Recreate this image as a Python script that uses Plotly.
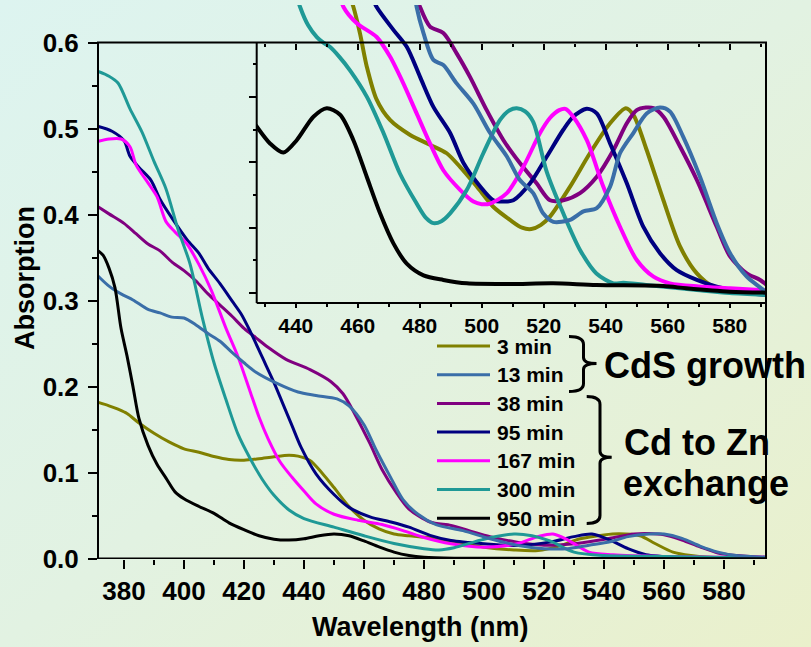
import base64
import plotly.graph_objects as go

# ---------------- data ----------------
labels = ["3 min", "13 min", "38 min", "95 min", "167 min", "300 min", "950 min"]
colors = ["#808000", "#3a6ea8", "#800080", "#000080", "#ff00ff", "#1f9996", "#000000"]

# main panel: absorption spectra (wavelength in nm, absorbance)
wl_3 = [371, 375, 378, 381, 385, 390, 395, 400, 405, 410, 415, 420, 425, 430, 435, 438, 442, 446, 450, 455,
        460, 465, 470, 475, 482, 490, 500, 510, 518, 525, 532, 540, 545, 552, 557, 563, 569, 575, 585, 594]
ab_3 = [0.1825, 0.178, 0.174, 0.169, 0.158, 0.146, 0.136, 0.128, 0.124, 0.119, 0.1155, 0.1148, 0.1165, 0.1188,
        0.1205, 0.1195, 0.1145, 0.100, 0.083, 0.061, 0.045, 0.035, 0.029, 0.027, 0.0247, 0.020, 0.0137, 0.0105,
        0.0099, 0.015, 0.0235, 0.028, 0.0293, 0.027, 0.018, 0.008, 0.004, 0.002, 0.001, 0.001]

wl_13 = [371, 375, 379, 383, 388, 392, 396, 400, 404, 408, 412, 416, 420, 424, 431, 438, 444, 451, 455, 460,
         464, 469, 473, 478, 484, 493, 502, 511, 520, 528, 535, 542, 548, 555, 560, 566, 572, 578, 584, 594]
ab_13 = [0.33, 0.317, 0.308, 0.301, 0.29, 0.286, 0.281, 0.28, 0.272, 0.262, 0.253, 0.24, 0.228, 0.217, 0.204,
         0.194, 0.19, 0.186, 0.178, 0.156, 0.127, 0.094, 0.069, 0.052, 0.04, 0.033, 0.0235, 0.016, 0.012, 0.012,
         0.016, 0.02, 0.026, 0.029, 0.029, 0.024, 0.015, 0.008, 0.004, 0.002]

wl_38 = [371, 375, 380, 384, 388, 392, 396, 400, 404, 408, 412, 416, 420, 424, 428, 434, 442, 449, 453, 457,
         462, 466, 471, 475, 482, 489, 495, 502, 511, 520, 528, 535, 542, 550, 555, 560, 566, 572, 578, 584, 594]
ab_38 = [0.41, 0.401, 0.39, 0.378, 0.366, 0.358, 0.345, 0.335, 0.323, 0.308, 0.295, 0.282, 0.268, 0.257, 0.246,
         0.232, 0.22, 0.206, 0.192, 0.168, 0.134, 0.104, 0.076, 0.058, 0.043, 0.039, 0.033, 0.026, 0.0196, 0.016,
         0.017, 0.02, 0.024, 0.029, 0.0295, 0.028, 0.022, 0.014, 0.007, 0.004, 0.002]

wl_95 = [371, 376, 380, 382, 385, 389, 392, 396, 401, 405, 408, 412, 416, 419, 422, 426, 430, 433, 436, 439,
         444, 450, 455, 462, 469, 475, 482, 489, 500, 511, 522, 530, 536, 542, 548, 554, 565, 594]
ab_95 = [0.503, 0.497, 0.486, 0.468, 0.455, 0.44, 0.418, 0.396, 0.371, 0.355, 0.338, 0.32, 0.30, 0.285, 0.265,
         0.235, 0.205, 0.18, 0.155, 0.13, 0.099, 0.075, 0.06, 0.049, 0.043, 0.037, 0.0275, 0.0215, 0.0177, 0.0157,
         0.0196, 0.026, 0.029, 0.022, 0.012, 0.005, 0.002, 0.001]

wl_167 = [371, 375, 379, 382, 384, 388, 391, 394, 397, 401, 405, 409, 414, 418, 422, 425, 428, 432, 436, 440,
          444, 450, 458, 466, 473, 480, 489, 500, 511, 518, 523, 528, 535, 543, 560, 594]
ab_167 = [0.485, 0.488, 0.488, 0.479, 0.458, 0.437, 0.421, 0.392, 0.38, 0.366, 0.342, 0.313, 0.268, 0.235, 0.195,
          0.165, 0.14, 0.113, 0.095, 0.079, 0.064, 0.052, 0.045, 0.04, 0.033, 0.025, 0.0177, 0.0137, 0.0177, 0.026,
          0.029, 0.022, 0.008, 0.005, 0.003, 0.002]

wl_300 = [371, 375, 378, 382, 386, 390, 394, 398, 402, 406, 410, 414, 418, 422, 426, 430, 435, 440, 450, 460,
          470, 480, 485, 490, 500, 510, 516, 522, 530, 540, 560, 594]
ab_300 = [0.567, 0.561, 0.553, 0.523, 0.496, 0.462, 0.43, 0.383, 0.343, 0.282, 0.228, 0.185, 0.145, 0.117, 0.093,
          0.074, 0.057, 0.047, 0.037, 0.027, 0.018, 0.012, 0.0105, 0.013, 0.023, 0.029, 0.027, 0.021, 0.008, 0.004,
          0.003, 0.001]

wl_950 = [371, 373, 375, 377, 379, 381, 383, 385, 388, 391, 394, 397, 400, 405, 410, 415, 420, 425, 430, 435,
          440, 445, 450, 455, 460, 465, 470, 475, 480, 490, 594]
ab_950 = [0.359, 0.353, 0.338, 0.315, 0.268, 0.236, 0.2, 0.163, 0.132, 0.11, 0.094, 0.078, 0.07, 0.061, 0.053, 0.042,
          0.034, 0.027, 0.023, 0.022, 0.0235, 0.027, 0.029, 0.027, 0.021, 0.014, 0.008, 0.004, 0.002, 0.001, 0.0]

# inset: normalised spectra around the first excitonic peak (arbitrary units)
iwl_3 = [457, 458.6, 460.7, 462.9, 466.1, 470.4, 476.9, 483.3, 488.7, 493, 498.4, 503.7, 509.1, 513, 516, 519,
         522, 528.5, 534.9, 541.4, 546.5, 549, 553.2, 558.6, 564, 569.4, 574.7, 582.3, 592]
ia_3 = [0.46, 0.438, 0.398, 0.347, 0.296, 0.265, 0.242, 0.227, 0.214, 0.193, 0.163, 0.132, 0.112, 0.1, 0.098,
        0.104, 0.117, 0.163, 0.214, 0.26, 0.283, 0.272, 0.219, 0.142, 0.071, 0.030, 0.0097, 0.002, -0.0005]

iwl_13 = [478, 479, 481.2, 484.4, 487.6, 491.9, 497.3, 502.7, 508.1, 512.3, 516.6, 519.8, 523.1, 528.5, 532.8,
          537.1, 541.4, 544.6, 548.9, 553.2, 557.5, 560.7, 565, 570.4, 575.8, 580.1, 585.5, 590.8, 592]
ia_13 = [0.47, 0.438, 0.398, 0.357, 0.349, 0.321, 0.29, 0.245, 0.209, 0.173, 0.153, 0.122, 0.109, 0.112, 0.125,
         0.13, 0.163, 0.214, 0.245, 0.275, 0.284, 0.278, 0.239, 0.178, 0.107, 0.061, 0.025, 0.0046, -0.003]

iwl_38 = [478, 480.1, 483.3, 487.6, 491.9, 496.2, 501.6, 507, 512.3, 517.7, 522, 526.3, 531.7, 537.1, 542.5,
          546.8, 550, 553, 555.4, 558.6, 564, 569.4, 575.8, 580.1, 585.5, 589.8, 592]
ia_38 = [0.47, 0.438, 0.408, 0.398, 0.367, 0.331, 0.28, 0.234, 0.199, 0.168, 0.142, 0.142, 0.153, 0.178, 0.219,
         0.26, 0.28, 0.284, 0.283, 0.27, 0.224, 0.173, 0.1015, 0.056, 0.030, 0.020, 0.012]

iwl_95 = [464, 466.1, 471.5, 475.8, 480.1, 484.4, 489.8, 494.1, 499.5, 503.7, 507, 510.2, 515.6, 521, 526.3,
          529.5, 533.9, 537.1, 541.4, 546.8, 552.1, 557.5, 562.9, 569.4, 575.8, 585.5, 592]
ia_95 = [0.46, 0.438, 0.403, 0.377, 0.331, 0.285, 0.245, 0.199, 0.163, 0.142, 0.14, 0.142, 0.168, 0.209, 0.25,
         0.27, 0.282, 0.275, 0.229, 0.168, 0.1015, 0.061, 0.035, 0.02, 0.0097, 0.0, -0.003]

iwl_167 = [454, 455.4, 459.7, 466.1, 470.4, 474.7, 479, 483.3, 487.6, 493, 497.3, 500, 502.7, 508.1, 513.4, 518.8,
           522, 525, 527, 529.5, 533.9, 539.2, 544.6, 550, 555.4, 560.7, 570, 580.1, 592]
ia_167 = [0.46, 0.438, 0.413, 0.392, 0.362, 0.321, 0.275, 0.229, 0.188, 0.158, 0.14, 0.136, 0.137, 0.153, 0.193,
          0.245, 0.268, 0.28, 0.282, 0.27, 0.234, 0.163, 0.1015, 0.0505, 0.025, 0.0148, 0.01, 0.0072, 0.004]

iwl_300 = [440, 441.4, 444, 446.8, 449, 451, 454, 457.5, 463, 468.3, 473.6, 479, 482, 484.4, 487, 489.8, 495.2,
           500.5, 505.9, 509, 511.3, 514, 516.6, 521, 526.3, 531.7, 537, 542.5, 545.7, 553, 569.4, 580, 592]
ia_300 = [0.46, 0.438, 0.41, 0.392, 0.383, 0.377, 0.362, 0.341, 0.30, 0.245, 0.183, 0.137, 0.115, 0.107, 0.11,
          0.122, 0.158, 0.214, 0.265, 0.28, 0.283, 0.278, 0.262, 0.185, 0.122, 0.066, 0.030, 0.0148, 0.0158,
          0.0122, 0.0046, 0.0, -0.003]

iwl_950 = [426, 427.4, 431.7, 436, 440.3, 445.7, 450, 454.3, 458.6, 462.9, 467.2, 471.5, 475.8, 481.2, 487.6,
           495.2, 509.1, 523, 537, 558.6, 566, 580, 592]
ia_950 = [0.265, 0.255, 0.229, 0.215, 0.234, 0.27, 0.283, 0.273, 0.234, 0.178, 0.122, 0.076, 0.045, 0.027, 0.020,
          0.0148, 0.0138, 0.0148, 0.0122, 0.0107, 0.0072, 0.002, 0.0005]

main_x = [wl_3, wl_13, wl_38, wl_95, wl_167, wl_300, wl_950]
main_y = [ab_3, ab_13, ab_38, ab_95, ab_167, ab_300, ab_950]
inset_x = [iwl_3, iwl_13, iwl_38, iwl_95, iwl_167, iwl_300, iwl_950]
inset_y = [ia_3, ia_13, ia_38, ia_95, ia_167, ia_300, ia_950]

group_labels = ["CdS growth", "Cd to Zn", "exchange"]

# ---------------- geometry ----------------
W, H = 811, 647
ML, MR, MT, MB = 98, 45, 5, 88
PW, PH = W - ML - MR, H - MT - MB
FONT = "Liberation Sans, Arial, Helvetica, sans-serif"


def px_x(px):
    return (px - ML) / PW


def px_y(py):
    return (H - MB - py) / PH


draw_order = [0, 2, 3, 4, 5, 1, 6]

fig = go.Figure()
for i in draw_order:
    fig.add_trace(go.Scatter(x=main_x[i], y=main_y[i], mode="lines", name=labels[i],
                             line=dict(color=colors[i], width=3, shape="spline", smoothing=0.8),
                             showlegend=False, xaxis="x", yaxis="y"))
for i in draw_order:
    fig.add_trace(go.Scatter(x=inset_x[i], y=inset_y[i], mode="lines", name=labels[i],
                             line=dict(color=colors[i], width=4, shape="spline", smoothing=0.8),
                             showlegend=False, xaxis="x2", yaxis="y2"))
# carrier for the inset's top tick axis
fig.add_trace(go.Scatter(x=[500], y=[0.2], mode="markers", marker=dict(opacity=0),
                         showlegend=False, hoverinfo="skip", xaxis="x3", yaxis="y2"))

tick_font = dict(family=FONT, size=26, color="black", weight="bold")
inset_font = dict(family=FONT, size=21, color="black", weight="bold")

y_top = (H - MB - 42.6) / 0.6  # px per absorbance unit
main_y_max = PH / y_top

inset_bottom_px, inset_left_px = 303, 256.7
inset_unit = 65.3 / 0.1
inset_y0 = (293 - inset_bottom_px) / inset_unit
inset_y1 = (293 - MT) / inset_unit

fig.update_layout(
    width=W, height=H,
    margin=dict(l=ML, r=MR, t=MT, b=MB, autoexpand=False),
    paper_bgcolor="#e3f2e2", plot_bgcolor="rgba(0,0,0,0)",
    showlegend=False,
    xaxis=dict(range=[371.33, 594.0], tickmode="linear", tick0=380, dtick=20,
               ticks="outside", ticklen=9, tickwidth=2, tickcolor="black",
               minor=dict(tickmode="linear", tick0=370, dtick=10, ticks="outside", ticklen=5,
                          tickwidth=2, tickcolor="black", showgrid=False),
               showgrid=False, zeroline=False, showline=False, tickfont=tick_font,
               ticklabelstandoff=0),
    yaxis=dict(range=[0, main_y_max], tickmode="linear", tick0=0, dtick=0.1, tickformat=".1f",
               ticks="outside", ticklen=9, tickwidth=2, tickcolor="black",
               minor=dict(tickmode="linear", tick0=0, dtick=0.05, ticks="outside", ticklen=5,
                          tickwidth=2, tickcolor="black", showgrid=False),
               showgrid=False, zeroline=False, showline=False, tickfont=tick_font,
               ticklabelstandoff=4),
    xaxis2=dict(domain=[px_x(inset_left_px), 1.0], anchor="y2", range=[427.4, 591.7],
                tickmode="linear", tick0=440, dtick=20, ticks="outside", ticklen=4, tickwidth=2,
                tickcolor="black",
                minor=dict(tickmode="linear", tick0=430, dtick=10, ticks="outside", ticklen=3,
                           tickwidth=2, tickcolor="black", showgrid=False),
                showgrid=False, zeroline=False, showline=False, tickfont=inset_font),
    yaxis2=dict(domain=[px_y(inset_bottom_px), 1.0], anchor="x2", range=[inset_y0, inset_y1],
                tickmode="array", tickvals=[0, 0.1, 0.2, 0.3], ticks="outside", ticklen=7,
                tickwidth=2, tickcolor="black", showticklabels=False,
                minor=dict(tickmode="array", tickvals=[0.05, 0.15, 0.25, 0.35], ticks="outside",
                           ticklen=3, tickwidth=2, tickcolor="black", showgrid=False),
                showgrid=False, zeroline=False, showline=False),
    xaxis3=dict(overlaying="x2", anchor="free", position=px_y(42.6), side="top",
                range=[427.4, 591.7], tickmode="linear", tick0=440, dtick=20,
                ticks="inside", ticklen=6, tickwidth=2, tickcolor="black", showticklabels=False,
                minor=dict(tickmode="linear", tick0=430, dtick=10, ticks="inside", ticklen=3,
                           tickwidth=2, tickcolor="black", showgrid=False),
                showgrid=False, zeroline=False, showline=False),
)

# gradient backdrop
svg = ('<svg xmlns="http://www.w3.org/2000/svg" width="811" height="647" preserveAspectRatio="none">'
       '<defs><linearGradient id="g" x1="0" y1="0" x2="1" y2="1">'
       '<stop offset="0" stop-color="#ddf4f0"/><stop offset="0.5" stop-color="#e2f2e2"/>'
       '<stop offset="1" stop-color="#eaf0cb"/></linearGradient></defs>'
       '<rect width="811" height="647" fill="url(#g)"/></svg>')
src = "data:image/svg+xml;base64," + base64.b64encode(svg.encode()).decode()
fig.add_layout_image(dict(source=src, xref="paper", yref="paper", x=px_x(0), y=px_y(0),
                          sizex=W / PW, sizey=H / PH, xanchor="left", yanchor="top",
                          sizing="stretch", layer="below"))

frame = dict(color="black", width=2)
shapes = [
    # main frame
    dict(type="rect", xref="x domain", yref="y", x0=0, x1=1, y0=0, y1=0.6, line=frame,
         fillcolor="rgba(0,0,0,0)"),
    dict(type="line", xref="x domain", yref="y", x0=0, x1=1, y0=0, y1=0,
         line=dict(color="black", width=3)),
    # inset frame (left and bottom; top and right are shared with the main frame)
    dict(type="line", xref="x2 domain", yref="paper", x0=0, x1=0, y0=px_y(inset_bottom_px),
         y1=px_y(42.6), line=frame),
    dict(type="line", xref="x2 domain", yref="paper", x0=0, x1=1, y0=px_y(inset_bottom_px),
         y1=px_y(inset_bottom_px), line=frame),
]

# legend entries
leg_x0, leg_x1, leg_text_x = 437, 490, 495
leg_y0, leg_dy = 346, 28.7
annotations = []
for k, (lab, col) in enumerate(zip(labels, colors)):
    yy = leg_y0 + k * leg_dy
    shapes.append(dict(type="line", xref="paper", yref="paper", x0=px_x(leg_x0), x1=px_x(leg_x1),
                       y0=px_y(yy), y1=px_y(yy), line=dict(color=col, width=3)))
    annotations.append(dict(x=px_x(leg_text_x), y=px_y(yy), xref="paper", yref="paper", text=lab,
                            showarrow=False, xanchor="left", yanchor="middle",
                            font=dict(family=FONT, size=21, color="black", weight="bold")))


def bracket(x_tip, x_bar, x_nub, y_top, y_mid, y_bot, r=8):
    pts = lambda x, y: f"{px_x(x):.5f},{px_y(y):.5f}"
    return ("M" + pts(x_tip, y_top) + " Q" + pts(x_bar, y_top) + " " + pts(x_bar, y_top + r) +
            " L" + pts(x_bar, y_mid - 6) + " Q" + pts(x_bar, y_mid) + " " + pts(x_nub, y_mid) +
            " Q" + pts(x_bar, y_mid) + " " + pts(x_bar, y_mid + 6) +
            " L" + pts(x_bar, y_bot - r) + " Q" + pts(x_bar, y_bot) + " " + pts(x_tip, y_bot))


shapes.append(dict(type="path", xref="paper", yref="paper",
                   path=bracket(569, 583.5, 596.5, 336.5, 363.5, 391.5),
                   line=dict(color="black", width=3), fillcolor="rgba(0,0,0,0)"))
shapes.append(dict(type="path", xref="paper", yref="paper",
                   path=bracket(586.7, 600, 611.7, 396.5, 457.3, 523.5),
                   line=dict(color="black", width=3), fillcolor="rgba(0,0,0,0)"))

big = dict(family=FONT, size=36, color="black", weight="bold")
annotations += [
    dict(x=px_x(601.5), y=px_y(365), xref="paper", yref="paper", text=group_labels[0],
         showarrow=False, xanchor="left", yanchor="middle", font=big),
    dict(x=px_x(622), y=px_y(442), xref="paper", yref="paper", text=group_labels[1],
         showarrow=False, xanchor="left", yanchor="middle", font=big),
    dict(x=px_x(621), y=px_y(483), xref="paper", yref="paper", text=group_labels[2],
         showarrow=False, xanchor="left", yanchor="middle", font=big),
    dict(x=px_x(420.5), y=px_y(627), xref="paper", yref="paper", text="Wavelength (nm)",
         showarrow=False, xanchor="center", yanchor="middle",
         font=dict(family=FONT, size=27, color="black", weight="bold")),
    dict(x=px_x(25), y=px_y(278), xref="paper", yref="paper", text="Absorption", textangle=-90,
         showarrow=False, xanchor="center", yanchor="middle",
         font=dict(family=FONT, size=27, color="black", weight="bold")),
]

fig.update_layout(shapes=shapes, annotations=annotations)
fig.write_html("out.html")
